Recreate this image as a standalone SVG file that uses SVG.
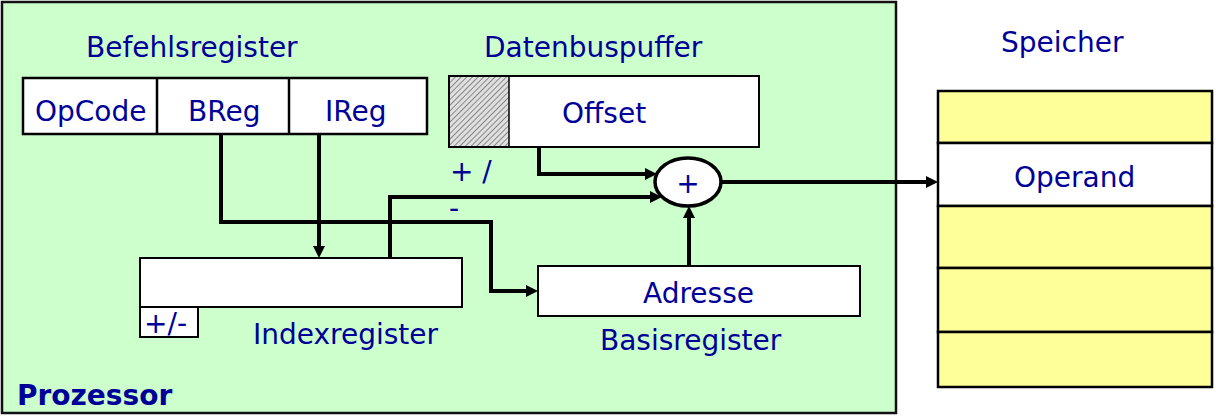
<svg xmlns="http://www.w3.org/2000/svg" width="1216" height="418" viewBox="0 0 1216 418">
<defs>
<style>
text{font-family:"DejaVu Sans","Liberation Sans",sans-serif;font-size:28px;fill:#000099}
.b{font-weight:bold}
.box{fill:#fff;stroke:#000;stroke-width:2}
.mem{fill:#FFFF99;stroke:#000;stroke-width:2.5}
.c{fill:none;stroke:#000;stroke-width:4}
.h{fill:#000}
</style>
<pattern id="hatch" width="4" height="4" patternUnits="userSpaceOnUse" patternTransform="rotate(45)">
<rect width="4" height="4" fill="#e0e0e0"/>
<line x1="0" y1="0" x2="0" y2="4" stroke="#6a6a6a" stroke-width="1.5"/>
</pattern>
</defs>
<g id="prozessor">
<rect x="2" y="2" width="894" height="411" fill="#CCFFCC" stroke="#111" stroke-width="2.5"/>
<text class="b" x="17" y="405">Prozessor</text>
</g>
<g id="befehlsregister">
<text x="86" y="57">Befehlsregister</text>
<rect class="box" x="23" y="78" width="404" height="56" style="stroke-width:2.5"/>
<line x1="157" y1="78" x2="157" y2="134" stroke="#000" stroke-width="2.5"/>
<line x1="289" y1="78" x2="289" y2="134" stroke="#000" stroke-width="2.5"/>
<text x="35" y="121">OpCode</text>
<text x="188" y="121">BReg</text>
<text x="325" y="121">IReg</text>
</g>
<g id="datenbuspuffer">
<text x="484" y="57">Datenbuspuffer</text>
<rect class="box" x="449" y="76" width="310" height="71"/>
<rect x="450" y="77" width="59" height="69" fill="url(#hatch)"/>
<line x1="509" y1="76" x2="509" y2="147" stroke="#000" stroke-width="1.5"/>
<text x="562" y="123">Offset</text>
<text x="450" y="181">+ /</text>
<text x="449" y="218">-</text>
</g>
<g id="indexregister">
<rect class="box" x="140" y="258" width="322" height="49"/>
<rect class="box" x="140" y="307" width="58" height="30"/>
<text x="144" y="333">+/-</text>
<text x="253" y="344">Indexregister</text>
</g>
<g id="basisregister">
<rect class="box" x="538" y="266" width="322" height="50"/>
<text x="643" y="303">Adresse</text>
<text x="600" y="350">Basisregister</text>
</g>
<g id="addierer">
<ellipse cx="688" cy="182" rx="33" ry="24" fill="#fff" stroke="#000" stroke-width="3.5"/>
<text x="688" y="193" text-anchor="middle">+</text>
</g>
<g id="speicher">
<text x="1001" y="52">Speicher</text>
<rect class="mem" x="938" y="91" width="274" height="52"/>
<rect class="box" x="938" y="143" width="274" height="63" style="stroke-width:2.5"/>
<rect class="mem" x="938" y="206" width="274" height="62"/>
<rect class="mem" x="938" y="268" width="274" height="64"/>
<rect class="mem" x="938" y="332" width="274" height="55"/>
<text x="1014" y="187">Operand</text>
</g>
<g id="connectors">
<path class="c" d="M319,134 V248"/>
<polygon class="h" points="313,246 325,246 319,258"/>
<path class="c" d="M221,134 V222 H491 V291 H528"/>
<polygon class="h" points="526,285 526,297 538,291"/>
<path class="c" d="M390,258 V197 H652"/>
<polygon class="h" points="650,191 650,203 662,197"/>
<path class="c" d="M539,147 V174 H647"/>
<polygon class="h" points="645,168 645,180 657,174"/>
<path class="c" d="M689,266 V216"/>
<polygon class="h" points="683,218 695,218 689,206"/>
<path class="c" d="M721,182 H928"/>
<polygon class="h" points="926,176 926,188 938,182"/>
</g>
</svg>
